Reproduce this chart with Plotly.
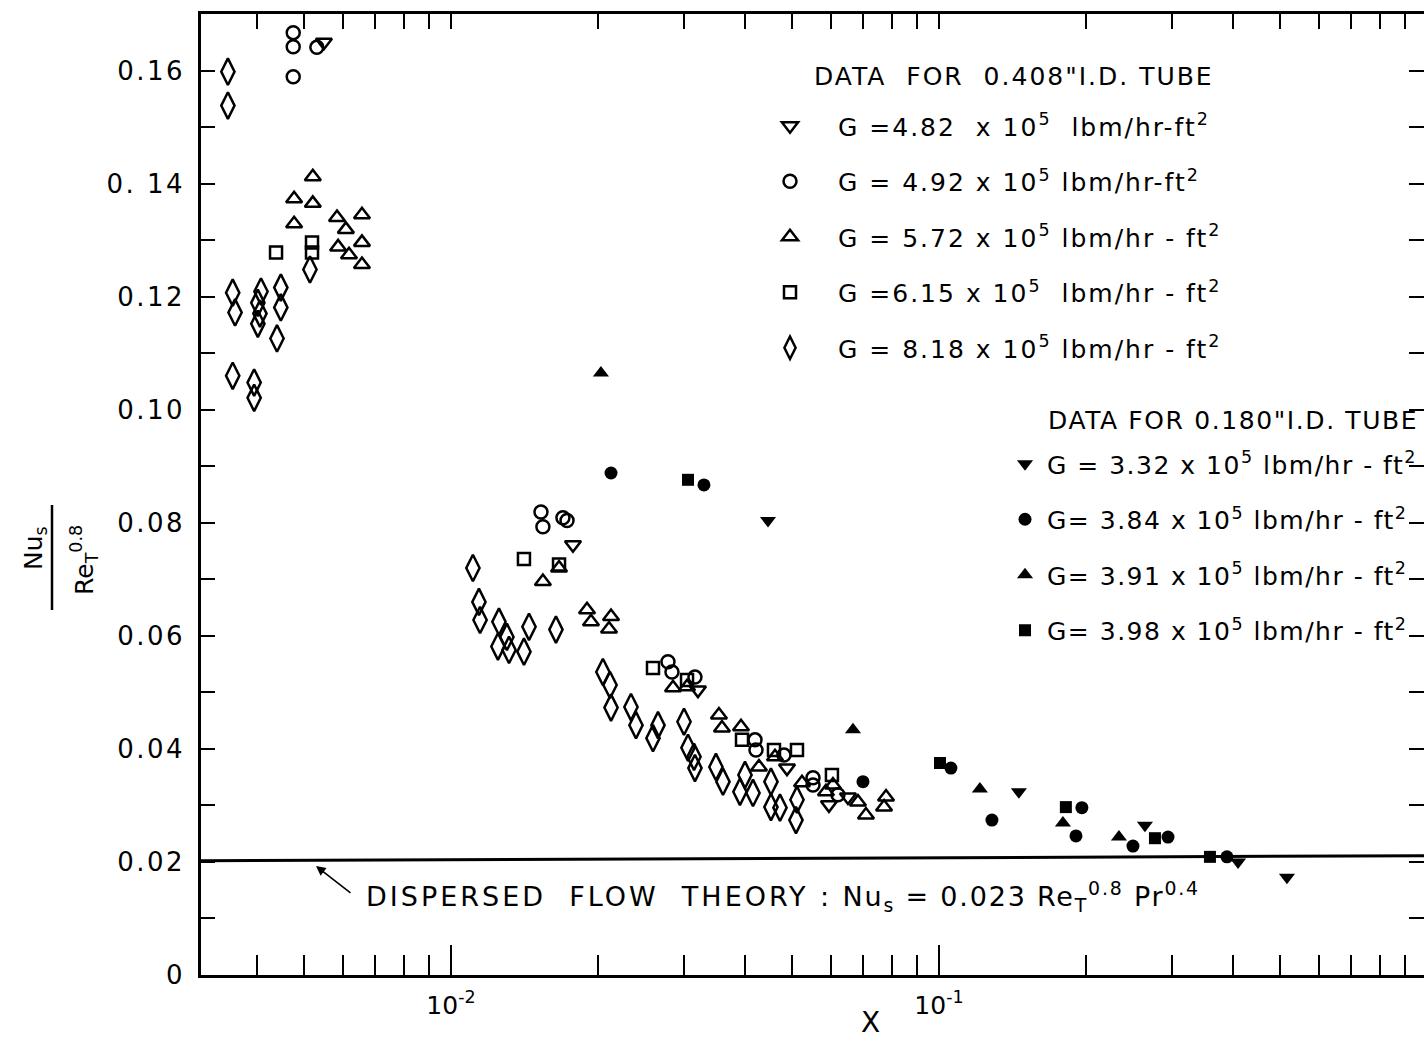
import plotly.graph_objects as go

# ---------------- data ----------------
# 0.408" I.D. tube
x_482 = [0.00549, 0.01778, 0.03207, 0.04882, 0.05951, 0.06509]
y_482 = [0.1650, 0.0761, 0.0504, 0.0366, 0.0301, 0.0315]

x_492 = [0.00475, 0.00475, 0.00475, 0.00531, 0.01529, 0.01543, 0.01696, 0.01729,
         0.02784, 0.02837, 0.03162, 0.04198, 0.04217, 0.04813, 0.05519, 0.05519, 0.06209]
y_492 = [0.1667, 0.1642, 0.1589, 0.1641, 0.0819, 0.0793, 0.0809, 0.0804,
         0.0554, 0.0536, 0.0527, 0.0416, 0.0398, 0.0389, 0.0349, 0.0336, 0.0319]

x_572 = [0.00521, 0.00477, 0.00521, 0.00477, 0.00584, 0.00657, 0.00609, 0.00587,
         0.00657, 0.00618, 0.00657, 0.01665, 0.01543, 0.01900, 0.01936, 0.02128,
         0.02108, 0.02851, 0.03046, 0.03541, 0.03592, 0.03929, 0.04277, 0.04613,
         0.05240, 0.06064, 0.05867, 0.06823, 0.07086, 0.07790, 0.07717]
y_572 = [0.1412, 0.1373, 0.1365, 0.1329, 0.1340, 0.1345, 0.1319, 0.1288,
         0.1296, 0.1274, 0.1257, 0.0720, 0.0696, 0.0646, 0.0625, 0.0634,
         0.0612, 0.0508, 0.0510, 0.0460, 0.0437, 0.0439, 0.0368, 0.0386,
         0.0340, 0.0336, 0.0324, 0.0306, 0.0283, 0.0315, 0.0297]

x_615 = [0.00438, 0.00519, 0.00519, 0.01411, 0.01665, 0.02594, 0.03046, 0.03948,
         0.04591, 0.05117, 0.06035]
y_615 = [0.1278, 0.1296, 0.1278, 0.0736, 0.0726, 0.0543, 0.0522, 0.0416,
         0.0398, 0.0398, 0.0354]

x_818 = [0.00349, 0.00349, 0.00357, 0.00361, 0.00408, 0.00402, 0.00406, 0.00402,
         0.00448, 0.00448, 0.00440, 0.00357, 0.00395, 0.00395, 0.00514,
         0.01109, 0.01141, 0.01147, 0.01254, 0.01302, 0.01248, 0.01315, 0.01445,
         0.01411, 0.01641, 0.02048, 0.02118, 0.02128, 0.02338, 0.02394, 0.02594,
         0.02656, 0.03003, 0.03060, 0.03148, 0.03162, 0.03491, 0.03609, 0.03910,
         0.04004, 0.04158, 0.04526, 0.04526, 0.04723, 0.05117, 0.05093]
y_818 = [0.1598, 0.1538, 0.1207, 0.1172, 0.1209, 0.1189, 0.1170, 0.1152,
         0.1216, 0.1181, 0.1126, 0.1060, 0.1048, 0.1021, 0.1248,
         0.0720, 0.0660, 0.0628, 0.0625, 0.0598, 0.0581, 0.0575, 0.0616,
         0.0572, 0.0611, 0.0536, 0.0513, 0.0473, 0.0474, 0.0442, 0.0419,
         0.0442, 0.0448, 0.0402, 0.0386, 0.0366, 0.0368, 0.0342, 0.0324,
         0.0354, 0.0322, 0.0342, 0.0297, 0.0296, 0.0310, 0.0274]

# 0.180" I.D. tube
x_332 = [0.04463, 0.1458, 0.2643, 0.4101, 0.5166]
y_332 = [0.0804, 0.0324, 0.0265, 0.0200, 0.0173]

x_384 = [0.02128, 0.03299, 0.06987, 0.1058, 0.1284, 0.1963, 0.1909, 0.2498, 0.2947, 0.3892]
y_384 = [0.0888, 0.0867, 0.0342, 0.0366, 0.0274, 0.0296, 0.0246, 0.0228, 0.0244, 0.0209]

x_391 = [0.02029, 0.06665, 0.1213, 0.1795, 0.2338]
y_391 = [0.1065, 0.0434, 0.0329, 0.0269, 0.0244]

x_398 = [0.03060, 0.1005, 0.1820, 0.2771, 0.3592]
y_398 = [0.0876, 0.0375, 0.0297, 0.0242, 0.0209]

# dispersed flow theory line
theory_x = [0.00307, 1.0]
theory_y = [0.0202, 0.0211]

names_408 = [
    "G =4.82  x 10<sup>5</sup>  lbm/hr-ft<sup>2</sup>",
    "G = 4.92 x 10<sup>5</sup> lbm/hr-ft<sup>2</sup>",
    "G = 5.72 x 10<sup>5</sup> lbm/hr - ft<sup>2</sup>",
    "G =6.15 x 10<sup>5</sup>  lbm/hr - ft<sup>2</sup>",
    "G = 8.18 x 10<sup>5</sup> lbm/hr - ft<sup>2</sup>",
]
names_180 = [
    "G = 3.32 x 10<sup>5</sup> lbm/hr - ft<sup>2</sup>",
    "G= 3.84 x 10<sup>5</sup> lbm/hr - ft<sup>2</sup>",
    "G= 3.91 x 10<sup>5</sup> lbm/hr - ft<sup>2</sup>",
    "G= 3.98 x 10<sup>5</sup> lbm/hr - ft<sup>2</sup>",
]
title_408 = "DATA  FOR  0.408\"I.D. TUBE"
title_180 = "DATA FOR 0.180\"I.D. TUBE"

y_ticks = [0, 0.02, 0.04, 0.06, 0.08, 0.10, 0.12, 0.14, 0.16]
y_ticktext = ["0", "0.02", "0.04", "0.06", "0.08", "0.10", "0.12", "0. 14", "0.16"]
y_minor = [0.01, 0.03, 0.05, 0.07, 0.09, 0.11, 0.13, 0.15]
y_right = [0.01 * i for i in range(1, 17)]
x_major = [0.01, 0.1, 1.0]
x_major_text = ["10<sup>-2</sup>", "10<sup>-1</sup>", ""]
x_minor = [m * d for d in (0.001, 0.01, 0.1) for m in range(2, 10)]

FONT = "DejaVu Sans"


def spaced(txt, ls):
    return '<span style="letter-spacing:%spx">%s</span>' % (ls, txt)


fig = go.Figure()

open_specs = [
    (x_482, y_482, "triangle-down-open", 14),
    (x_492, y_492, "circle-open", 13),
    (x_572, y_572, "triangle-up-open", 14),
    (x_615, y_615, "square-open", 12),
    (x_818, y_818, "diamond-tall-open", 19),
]
for i, (xs, ys, sym, sz) in enumerate(open_specs):
    fig.add_trace(go.Scatter(
        x=xs, y=ys, mode="markers", name=spaced(names_408[i], 2),
        legend="legend", legendgroup="a%d" % i,
        marker=dict(symbol=sym, size=sz, color="black", line=dict(width=2.5, color="black")),
    ))

filled_specs = [
    (x_332, y_332, "triangle-down", 14),
    (x_384, y_384, "circle", 13),
    (x_391, y_391, "triangle-up", 14),
    (x_398, y_398, "square", 12),
]
for i, (xs, ys, sym, sz) in enumerate(filled_specs):
    fig.add_trace(go.Scatter(
        x=xs, y=ys, mode="markers", name=spaced(names_180[i], 1.5),
        legend="legend2", legendgroup="b%d" % i,
        marker=dict(symbol=sym, size=sz, color="black", line=dict(width=0)),
    ))

fig.add_trace(go.Scatter(x=theory_x, y=theory_y, mode="lines", showlegend=False,
                         line=dict(color="black", width=3)))
# carriers for the right-hand and top tick axes
fig.add_trace(go.Scatter(x=[None], y=[None], yaxis="y2", showlegend=False, hoverinfo="skip"))
fig.add_trace(go.Scatter(x=[None], y=[None], xaxis="x2", showlegend=False, hoverinfo="skip"))

W, H = 1424, 1038
L, R, T, B = 201, 0, 14, 63
PW, PH = W - L - R, H - T - B


def px(xp):
    return (xp - L) / PW


def py(yp):
    return (H - B - yp) / PH


ann = []
# legend titles
ann.append(dict(x=px(812), y=py(77), xref="paper", yref="paper", xanchor="left", yanchor="middle",
                text=spaced(title_408, 2), showarrow=False,
                font=dict(family=FONT, size=25, color="black")))
ann.append(dict(x=px(1046), y=py(420), xref="paper", yref="paper", xanchor="left", yanchor="middle",
                text=spaced(title_180, 1.6), showarrow=False,
                font=dict(family=FONT, size=25, color="black")))
# theory label
ann.append(dict(x=px(364), y=py(896), xref="paper", yref="paper", xanchor="left", yanchor="middle",
                text=spaced("DISPERSED  FLOW  THEORY :", 3)
                + spaced(" Nu<sub>s</sub> = 0.023 Re<sub>T</sub><sup>0.8</sup> Pr<sup>0.4</sup>", 1.8),
                showarrow=False, font=dict(family=FONT, size=27, color="black")))
# arrow
ann.append(dict(x=px(316), y=py(866), xref="paper", yref="paper", text="", showarrow=True,
                ax=36, ay=28, arrowhead=2, arrowsize=1.2, arrowwidth=1.6, arrowcolor="black"))
# x title
ann.append(dict(x=px(870), y=py(1022), xref="paper", yref="paper", text="X", showarrow=False,
                xanchor="center", yanchor="middle", font=dict(family=FONT, size=28, color="black")))
# y title (fraction)
ann.append(dict(x=px(35), y=py(548), xref="paper", yref="paper", text="Nu<sub>s</sub>", textangle=-90,
                showarrow=False, xanchor="center", yanchor="middle",
                font=dict(family=FONT, size=25, color="black")))
ann.append(dict(x=px(84), y=py(560), xref="paper", yref="paper", text="Re<sub>T</sub><sup>0.8</sup>",
                textangle=-90, showarrow=False, xanchor="center", yanchor="middle",
                font=dict(family=FONT, size=25, color="black")))

shapes = [dict(type="line", xref="paper", yref="paper", x0=px(52), x1=px(52),
               y0=py(505), y1=py(610), line=dict(color="black", width=2.5))]

fig.update_layout(
    width=W, height=H,
    margin=dict(l=L, r=R, t=T, b=B),
    paper_bgcolor="white", plot_bgcolor="white",
    font=dict(family=FONT, color="black"),
    annotations=ann, shapes=shapes,
    xaxis=dict(type="log", range=[-2.5123, -0.006], tickmode="array", tickvals=x_major,
               ticktext=x_major_text, ticks="inside", ticklen=30, tickwidth=1.6, tickcolor="black",
               showline=True, linewidth=2.5, linecolor="black", mirror=True,
               showgrid=False, zeroline=False, tickfont=dict(size=25, family=FONT),
               ticklabelstandoff=6,
               minor=dict(tickmode="array", tickvals=x_minor, ticks="inside", ticklen=20,
                          tickwidth=1.6, tickcolor="black", showgrid=False)),
    xaxis2=dict(type="log", overlaying="x", side="top", anchor="y", range=[-2.5123, -0.006],
                tickmode="array", tickvals=x_major + x_minor, ticks="inside", ticklen=15,
                tickwidth=1.6, tickcolor="black", showticklabels=False, showline=False,
                showgrid=False, zeroline=False),
    yaxis=dict(range=[0, 0.170], tickmode="array", tickvals=y_ticks,
               ticktext=[spaced(t, 2.5) for t in y_ticktext],
               ticks="inside", ticklen=14, tickwidth=1.6, tickcolor="black",
               showline=True, linewidth=2.5, linecolor="black", showgrid=False, zeroline=False,
               tickfont=dict(size=26, family=FONT), ticklabelstandoff=8,
               minor=dict(tickmode="array", tickvals=y_minor, ticks="inside", ticklen=14,
                          tickwidth=1.6, tickcolor="black", showgrid=False)),
    yaxis2=dict(overlaying="y", side="right", anchor="x", range=[0, 0.170], tickmode="array",
                tickvals=y_right, ticks="inside", ticklen=15, tickwidth=1.6, tickcolor="black",
                showticklabels=False, showline=False, showgrid=False, zeroline=False),
    legend=dict(x=px(742), y=py(103), xanchor="left", yanchor="top", itemwidth=86,
                traceorder="grouped", tracegroupgap=20, bgcolor="rgba(0,0,0,0)",
                font=dict(family=FONT, size=25, color="black")),
    legend2=dict(x=px(1003), y=py(441), xanchor="left", yanchor="top", itemwidth=34,
                 traceorder="grouped", tracegroupgap=20, bgcolor="rgba(0,0,0,0)",
                 font=dict(family=FONT, size=25, color="black")),
    showlegend=True,
)

fig.write_html("out.html")
